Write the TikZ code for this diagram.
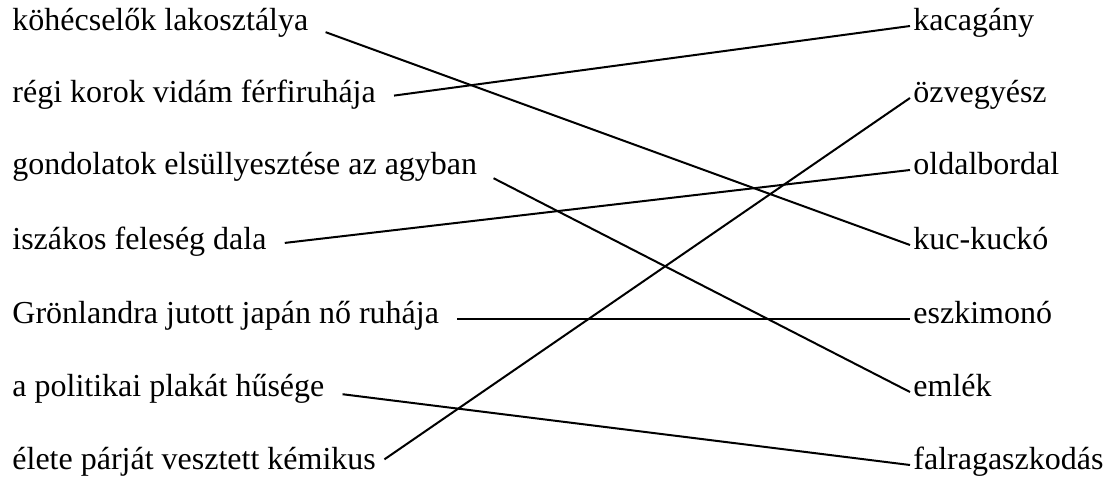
\documentclass[tikz,border=0pt]{standalone}
\usepackage{fontspec}
\setmainfont{Liberation Serif}
\usepackage{tikz}
\usetikzlibrary{positioning}

\begin{document}
\begin{tikzpicture}[
        x=0.5pt, y=-0.5pt,
        phrase/.style={anchor=mid west, inner sep=0pt, font=\fontsize{16}{19}\selectfont},
        word/.style={anchor=mid west, inner xsep=1.5pt, inner ysep=0pt, font=\fontsize{16}{19}\selectfont},
        link/.style={line width=1pt, shorten <=9pt}
    ]
        \useasboundingbox (0,0) rectangle (1110,483);

        % Left column
        \node[phrase] (p1) at (12, 26) {köhécselők lakosztálya};
        \node[phrase] (p2) at (12, 98) {régi korok vidám férfiruhája};
        \node[phrase] (p3) at (12, 170) {gondolatok elsüllyesztése az agyban};
        \node[phrase] (p4) at (12, 245) {iszákos feleség dala};
        \node[phrase] (p5) at (12, 319) {Grönlandra jutott japán nő ruhája};
        \node[phrase] (p6) at (12, 392) {a politikai plakát hűsége};
        \node[phrase] (p7) at (12, 465) {élete párját vesztett kémikus};

        % Right column
        \node[word] (w1) at (910, 26) {kacagány};
        \node[word] (w2) at (910, 98) {özvegyész};
        \node[word] (w3) at (910, 170) {oldalbordal};
        \node[word] (w4) at (910, 245) {kuc-kuckó};
        \node[word] (w5) at (910, 319) {eszkimonó};
        \node[word] (w6) at (910, 392) {emlék};
        \node[word] (w7) at (910, 465) {falragaszkodás};

        % Pairs
        \draw[link] (p1.mid east) -- (w4.mid west);
        \draw[link] (p2.mid east) -- (w1.mid west);
        \draw[link] (p3.mid east) -- (w6.mid west);
        \draw[link] (p4.mid east) -- (w3.mid west);
        \draw[link] (p5.mid east) -- (w5.mid west);
        \draw[link] (p6.mid east) -- (w7.mid west);
        \draw[link, shorten <=5pt] (p7.mid east) -- (w2.mid west);

    \end{tikzpicture}
\end{document}
